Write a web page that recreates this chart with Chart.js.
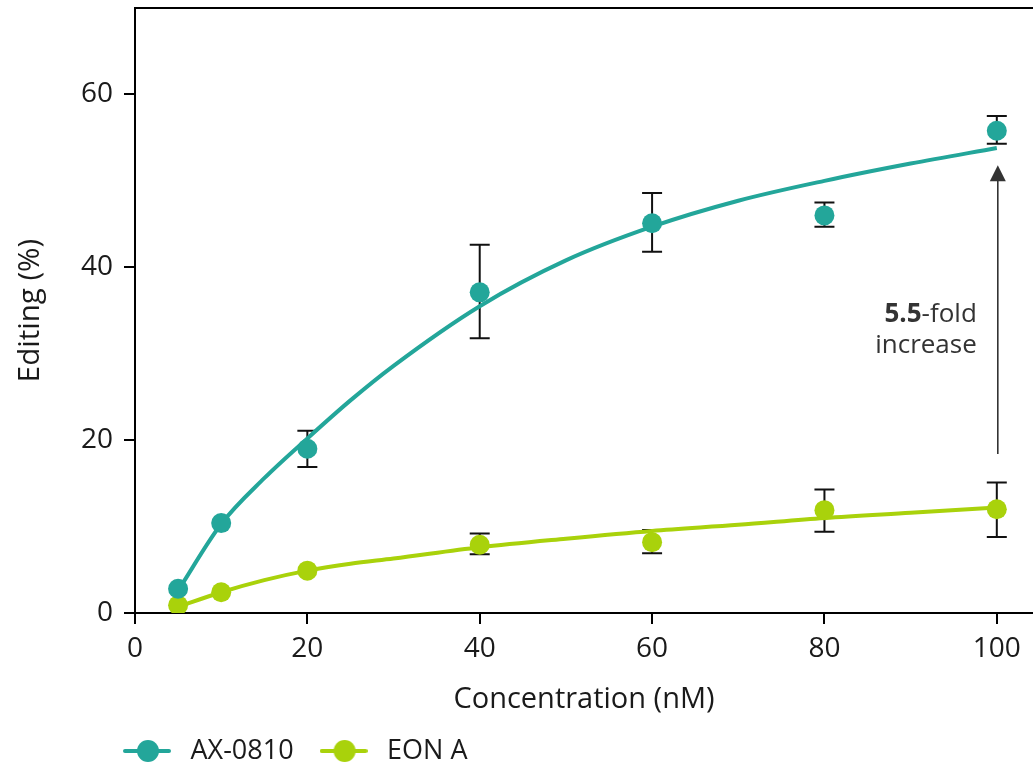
<!DOCTYPE html>
<html>
<head>
<meta charset="utf-8">
<script src="https://cdn.jsdelivr.net/npm/chart.js@4/dist/chart.umd.min.js"></script>
<style>
  html, body { margin: 0; padding: 0; background: #fff; overflow: hidden; }
  #wrap { width: 1033px; height: 764px; position: relative; }
  canvas { display: block; }
</style>
</head>
<body>
<div id="wrap"><canvas id="editing"></canvas></div>
<script>
// measured points (mean +/- error) per concentration
const concentrations = [5, 10, 20, 40, 60, 80, 100]
const ax0810 = [2.8, 10.4, 19.0, 37.1, 45.1, 46.0, 55.8]
const ax0810Low = [null, null, 16.9, 31.8, 41.8, 44.7, 54.3]
const ax0810High = [null, null, 21.1, 42.6, 48.6, 47.5, 57.5]
const eonA = [0.9, 2.4, 4.9, 7.9, 8.2, 11.9, 12.0]
const eonALow = [null, null, null, 6.8, 6.9, 9.4, 8.8]
const eonAHigh = [null, null, null, 9.2, 9.6, 14.3, 15.1]

// fitted curves
const fitX = [5, 10, 15, 20, 25, 30, 40, 50, 60, 70, 80, 90, 100]
const ax0810Fit = [2.6, 10.3, 15.6, 20.2, 24.6, 28.6, 35.5, 40.8, 44.7, 47.7, 50.0, 52.0, 53.8]
const eonAFit = [0.7, 2.4, 3.8, 4.9, 5.7, 6.3, 7.6, 8.6, 9.5, 10.2, 11.0, 11.6, 12.2]

const xTicks = [0, 20, 40, 60, 80, 100]
const yTicks = [0, 20, 40, 60]

// 5.5-fold arrow at 100 nM
const foldArrow = { x: 100, from: 18.4, to: 51.8 }
const foldLabel = ['5.5', '-fold', 'increase']

const TEAL = '#23a69a'
const LIME = '#a9d20b'
const INK = '#1a1a1a'
const FONT = '"Open Sans", "Noto Sans", sans-serif'

const pairs = (xs, ys) => xs.map((x, i) => ({ x, y: ys[i] }))

const legendIcon = (color) => {
  const c = document.createElement('canvas')
  c.width = 48
  c.height = 24
  const g = c.getContext('2d')
  g.strokeStyle = color
  g.lineWidth = 4
  g.lineCap = 'round'
  g.beginPath()
  g.moveTo(2, 12)
  g.lineTo(46, 12)
  g.stroke()
  g.fillStyle = color
  g.beginPath()
  g.arc(25, 12, 11, 0, Math.PI * 2)
  g.fill()
  return c
}
const legendIcons = [legendIcon(TEAL), legendIcon(LIME)]

const errorBars = {
  id: 'errorBars',
  beforeDatasetsDraw(chart) {
    const { ctx, scales: { x, y } } = chart
    ctx.save()
    ctx.strokeStyle = '#111'
    ctx.lineWidth = 2
    ;[[ax0810Low, ax0810High], [eonALow, eonAHigh]].forEach(([lo, hi]) => {
      concentrations.forEach((c, i) => {
        if (lo[i] == null) return
        const px = x.getPixelForValue(c)
        const top = y.getPixelForValue(hi[i])
        const bot = y.getPixelForValue(lo[i])
        ctx.beginPath()
        ctx.moveTo(px, top); ctx.lineTo(px, bot)
        ctx.moveTo(px - 10, top); ctx.lineTo(px + 10, top)
        ctx.moveTo(px - 10, bot); ctx.lineTo(px + 10, bot)
        ctx.stroke()
      })
    })
    ctx.restore()
  },
}

const foldAnnotation = {
  id: 'foldAnnotation',
  afterDatasetsDraw(chart) {
    const { ctx, scales: { x, y } } = chart
    const px = x.getPixelForValue(foldArrow.x) + 1
    const y0 = y.getPixelForValue(foldArrow.from)
    const tip = y.getPixelForValue(foldArrow.to)
    ctx.save()
    ctx.strokeStyle = '#333'
    ctx.fillStyle = '#333'
    ctx.lineWidth = 1.6
    ctx.beginPath()
    ctx.moveTo(px, y0)
    ctx.lineTo(px, tip + 14)
    ctx.stroke()
    ctx.beginPath()
    ctx.moveTo(px, tip)
    ctx.lineTo(px - 8, tip + 16)
    ctx.lineTo(px + 8, tip + 16)
    ctx.closePath()
    ctx.fill()

    // label, right aligned left of the arrow
    const right = px - 21
    const base = y.getPixelForValue(33.7)
    ctx.textBaseline = 'alphabetic'
    ctx.font = '700 26px ' + FONT
    const wBold = ctx.measureText(foldLabel[0]).width
    ctx.font = '400 26px ' + FONT
    const wRest = ctx.measureText(foldLabel[1]).width
    ctx.textAlign = 'left'
    ctx.font = '700 26px ' + FONT
    ctx.fillText(foldLabel[0], right - wBold - wRest, base)
    ctx.font = '400 26px ' + FONT
    ctx.fillText(foldLabel[1], right - wRest, base)
    ctx.textAlign = 'right'
    ctx.fillText(foldLabel[2], right, base + 31.6)
    ctx.restore()
  },
}

// move the legend row under the plot, like the figure
const legendShift = {
  id: 'legendShift',
  afterLayout(chart) {
    chart.legend.left = 97
  },
}

const ctx = document.getElementById('editing')

const myChart = new Chart(ctx, {
  type: 'scatter',
  data: {
    datasets: [
      {
        label: 'AX-0810',
        data: pairs(concentrations, ax0810),
        backgroundColor: TEAL,
        borderColor: TEAL,
        pointRadius: 10,
        pointHoverRadius: 10,
        borderWidth: 0,
        showLine: false,
      },
      {
        label: 'EON A',
        data: pairs(concentrations, eonA),
        backgroundColor: LIME,
        borderColor: LIME,
        pointRadius: 10,
        pointHoverRadius: 10,
        borderWidth: 0,
        showLine: false,
      },
      {
        label: 'AX-0810 fit',
        data: pairs(fitX, ax0810Fit),
        borderColor: TEAL,
        borderWidth: 4,
        pointRadius: 0,
        showLine: true,
        cubicInterpolationMode: 'monotone',
      },
      {
        label: 'EON A fit',
        data: pairs(fitX, eonAFit),
        borderColor: LIME,
        borderWidth: 4,
        pointRadius: 0,
        showLine: true,
        cubicInterpolationMode: 'monotone',
      },
    ],
  },
  options: {
    responsive: true,
    maintainAspectRatio: false,
    animation: false,
    layout: {
      autoPadding: false,
      padding: { top: 8, left: 0, right: 0, bottom: -10.5 },
    },
    scales: {
      x: {
        type: 'linear',
        position: 'bottom',
        min: 0,
        max: 104.2,
        afterBuildTicks(scale) {
          scale.ticks = xTicks.map((v) => ({ value: v }))
        },
        afterFit(scale) {
          scale.height = 104.5
          scale.paddingLeft = 0
          scale.paddingRight = 0
        },
        grid: {
          display: true,
          drawOnChartArea: false,
          drawTicks: true,
          tickLength: 11,
          color: '#000',
          lineWidth: 2,
        },
        border: { display: true, color: '#000', width: 2 },
        ticks: {
          padding: 8,
          color: INK,
          font: { family: FONT, size: 28 },
          maxRotation: 0,
        },
        title: {
          display: true,
          text: 'Concentration (nM)',
          color: INK,
          font: { family: FONT, size: 29 },
          padding: { top: 0, bottom: 0 },
        },
      },
      xTop: {
        type: 'linear',
        position: 'top',
        min: 0,
        max: 104.2,
        grid: { display: false },
        ticks: { display: false },
        border: { display: true, color: '#000', width: 2 },
        afterFit(scale) {
          scale.height = 0
        },
      },
      y: {
        type: 'linear',
        min: 0,
        max: 70,
        afterBuildTicks(scale) {
          scale.ticks = yTicks.map((v) => ({ value: v }))
        },
        afterFit(scale) {
          scale.width = 135
          scale.paddingTop = 0
          scale.paddingBottom = 0
        },
        grid: {
          display: true,
          drawOnChartArea: false,
          drawTicks: true,
          tickLength: 11,
          color: '#000',
          lineWidth: 2,
        },
        border: { display: true, color: '#000', width: 2 },
        ticks: {
          padding: 11,
          color: INK,
          font: { family: FONT, size: 28 },
        },
        title: {
          display: true,
          text: 'Editing (%)',
          color: INK,
          font: { family: FONT, size: 29.5 },
          padding: { top: 13, bottom: 0 },
        },
      },
    },
    plugins: {
      tooltip: { enabled: false },
      legend: {
        display: true,
        position: 'bottom',
        align: 'start',
        labels: {
          usePointStyle: true,
          pointStyleWidth: 60,
          padding: 20,
          color: INK,
          font: { family: FONT, size: 27 },
          generateLabels(chart) {
            const items = Chart.defaults.plugins.legend.labels.generateLabels(chart)
            return items
              .filter((it) => it.datasetIndex < 2)
              .map((it) => ({ ...it, pointStyle: legendIcons[it.datasetIndex] }))
          },
        },
      },
    },
  },
  plugins: [errorBars, foldAnnotation, legendShift],
})
</script>
</body>
</html>
